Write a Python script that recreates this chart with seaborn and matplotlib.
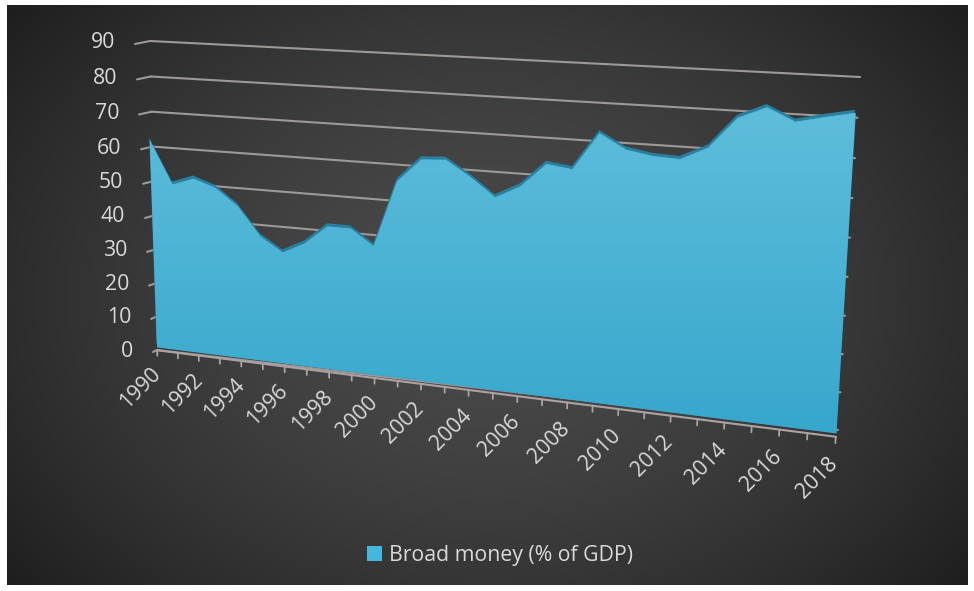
import numpy as np
import pandas as pd
import matplotlib
matplotlib.use("Agg")
import matplotlib.pyplot as plt
import matplotlib.transforms as mtransforms
from matplotlib.colors import LinearSegmentedColormap
from matplotlib.patches import Patch
import seaborn as sns

# ---- data -------------------------------------------------------------
years = list(range(1990, 2019))
broad_money = [62.0, 49.6, 51.9, 49.7, 44.9, 36.7, 32.6, 35.9, 41.4, 41.4,
               36.9, 55.8, 62.3, 62.7, 58.5, 53.5, 57.0, 63.5, 62.6, 72.5,
               68.7, 67.5, 67.2, 70.6, 78.6, 81.6, 78.4, 80.0, 81.4]
value_ticks = [0, 10, 20, 30, 40, 50, 60, 70, 80, 90]
year_labels = years[::2]
series_name = "Broad money (% of GDP)"

# ---- style ------------------------------------------------------------
sns.set_theme(style="dark")
plt.rcParams["font.family"] = ["Open Sans", "DejaVu Sans"]
TEXT = "#d9d9d9"
GRID = "#9d9997"
AXIS = "#ada2a2"
FACE_TOP, FACE_BOTTOM = "#5fbedb", "#36a6cc"
RIM = "#2a7f9f"
FS = 15.3

W_PX, H_PX = 974, 591
fig = plt.figure(figsize=(W_PX / 100, H_PX / 100), dpi=100, facecolor="white")
ax = fig.add_axes([0, 0, 1, 1])
ax.set_xlim(0, W_PX)
ax.set_ylim(H_PX, 0)
ax.set_autoscale_on(False)
ax.axis("off")


# ---- perspective helpers ----------------------------------------------
def homography(src, dst):
    """3x3 projective matrix taking four (x, y) points onto four pixels."""
    A, b = [], []
    for (x, y), (u, v) in zip(src, dst):
        A.append([x, y, 1, 0, 0, 0, -u * x, -u * y]); b.append(u)
        A.append([0, 0, 0, x, y, 1, -v * x, -v * y]); b.append(v)
    h = np.linalg.solve(np.array(A, float), np.array(b, float))
    return np.append(h, 1.0).reshape(3, 3)


def project(H, pts):
    p = np.column_stack([pts, np.ones(len(pts))]) @ H.T
    return p[:, :2] / p[:, 2:3]


class Projective(mtransforms.Transform):
    input_dims = output_dims = 2
    is_separable = False
    has_inverse = False

    def __init__(self, H):
        super().__init__()
        self.H = H

    def transform_non_affine(self, values):
        return project(self.H, np.asarray(values, float).reshape(-1, 2))


class SideWall(mtransforms.Transform):
    """(depth, value) on the left side wall; depth 1 is the back corner."""
    input_dims = output_dims = 2
    is_separable = False
    has_inverse = False

    def __init__(self, H, year, off_bottom, off_top, v_top):
        super().__init__()
        self.H, self.year, self.v_top = H, year, v_top
        self.off_bottom = np.asarray(off_bottom, float)
        self.off_top = np.asarray(off_top, float)

    def transform_non_affine(self, values):
        v = np.asarray(values, float).reshape(-1, 2)
        corner = project(self.H, np.column_stack([np.full(len(v), self.year), v[:, 1]]))
        frac = (v[:, 1] / self.v_top)[:, None]
        off = (1 - frac) * self.off_bottom + frac * self.off_top
        return corner + (1 - v[:, 0])[:, None] * off


y0, y1 = years[0], years[-1]
# front face of the ribbon
H_front = homography([(y0, 0), (y1, 0), (y0, 60), (y1, 80)],
                     [(157, 347), (836, 433), (150, 148), (855, 119)])
# back wall carrying the gridlines
H_wall = homography([(y0, 0), (y1, 0), (y0, 90), (y1, 90)],
                    [(157, 350), (838, 430), (150, 41), (860, 77)])

side = SideWall(H_wall, y0, off_bottom=(-4, 2), off_top=(-15, 3), v_top=90)
T_front = Projective(H_front) + ax.transData
T_back = Projective(H_front) + mtransforms.Affine2D().translate(-1, -4) + ax.transData
T_wall = Projective(H_wall) + ax.transData
T_side = side + ax.transData
T_vlab = side + mtransforms.Affine2D().translate(-20, -1) + ax.transData

# ---- background -------------------------------------------------------
gy, gx = np.mgrid[0:300, 0:480]
r = np.sqrt(((gx - 240) / 270) ** 2 + ((gy - 150) / 210) ** 2)
shade = 0.29 - 0.14 * np.clip(r, 0, 1.3) ** 1.6
bg = np.dstack([shade, shade, shade])
ax.imshow(bg, extent=[7, 968, 585, 5], aspect="auto", zorder=0,
          interpolation="bilinear")

# ---- walls and value axis ----------------------------------------------
for v in value_ticks:
    ax.plot([y0, y1], [v, v], transform=T_wall, color=GRID, lw=1.5, zorder=1)
    ax.plot([0, 1], [v, v], transform=T_side, color=GRID, lw=1.5, zorder=1)
    ax.text(0, v, str(v), transform=T_vlab, ha="right", va="center",
            color=TEXT, fontsize=FS)

# ---- ribbon -----------------------------------------------------------
df = pd.DataFrame({"year": years, "value": broad_money})
ax.fill_between(df["year"], 0, df["value"], transform=T_back,
                color=RIM, lw=0, zorder=3)
front = ax.fill_between(df["year"], 0, df["value"], transform=T_front,
                        color=FACE_BOTTOM, lw=0, zorder=4)
cmap = LinearSegmentedColormap.from_list("face", [FACE_TOP, FACE_BOTTOM])
grad = ax.imshow(np.linspace(0, 1, 256).reshape(-1, 1), cmap=cmap,
                 extent=[130, 880, 445, 100], aspect="auto", zorder=4.5)
grad.set_clip_path(front.get_paths()[0], T_front)
sns.lineplot(data=df, x="year", y="value", ax=ax, transform=T_front,
             color="#56b8d8", lw=0.6, zorder=5, legend=False)

# ---- category axis ----------------------------------------------------
ax.plot([y0, y1], [-1, -1], transform=T_front, color=AXIS, lw=1.5, zorder=3.5)
for yr in years:
    ax.plot([yr, yr], [-1, -2.7], transform=T_front, color=AXIS, lw=1.3,
            zorder=3.5)
for yr in year_labels:
    ax.text(yr, -7.5, str(yr), transform=T_front, rotation=45,
            rotation_mode="anchor", ha="right", va="center",
            color=TEXT, fontsize=FS)

# ---- legend -----------------------------------------------------------
handles = [Patch(facecolor="#45b6dc", edgecolor="none", label=series_name)]
ax.legend(handles=handles, loc="center", bbox_to_anchor=(500, 555),
          bbox_transform=ax.transData, frameon=False, fontsize=FS,
          labelcolor=TEXT, handlelength=0.7, handleheight=0.7,
          handletextpad=0.3, borderpad=0)

fig.savefig("out.png", dpi=100, facecolor="white")
